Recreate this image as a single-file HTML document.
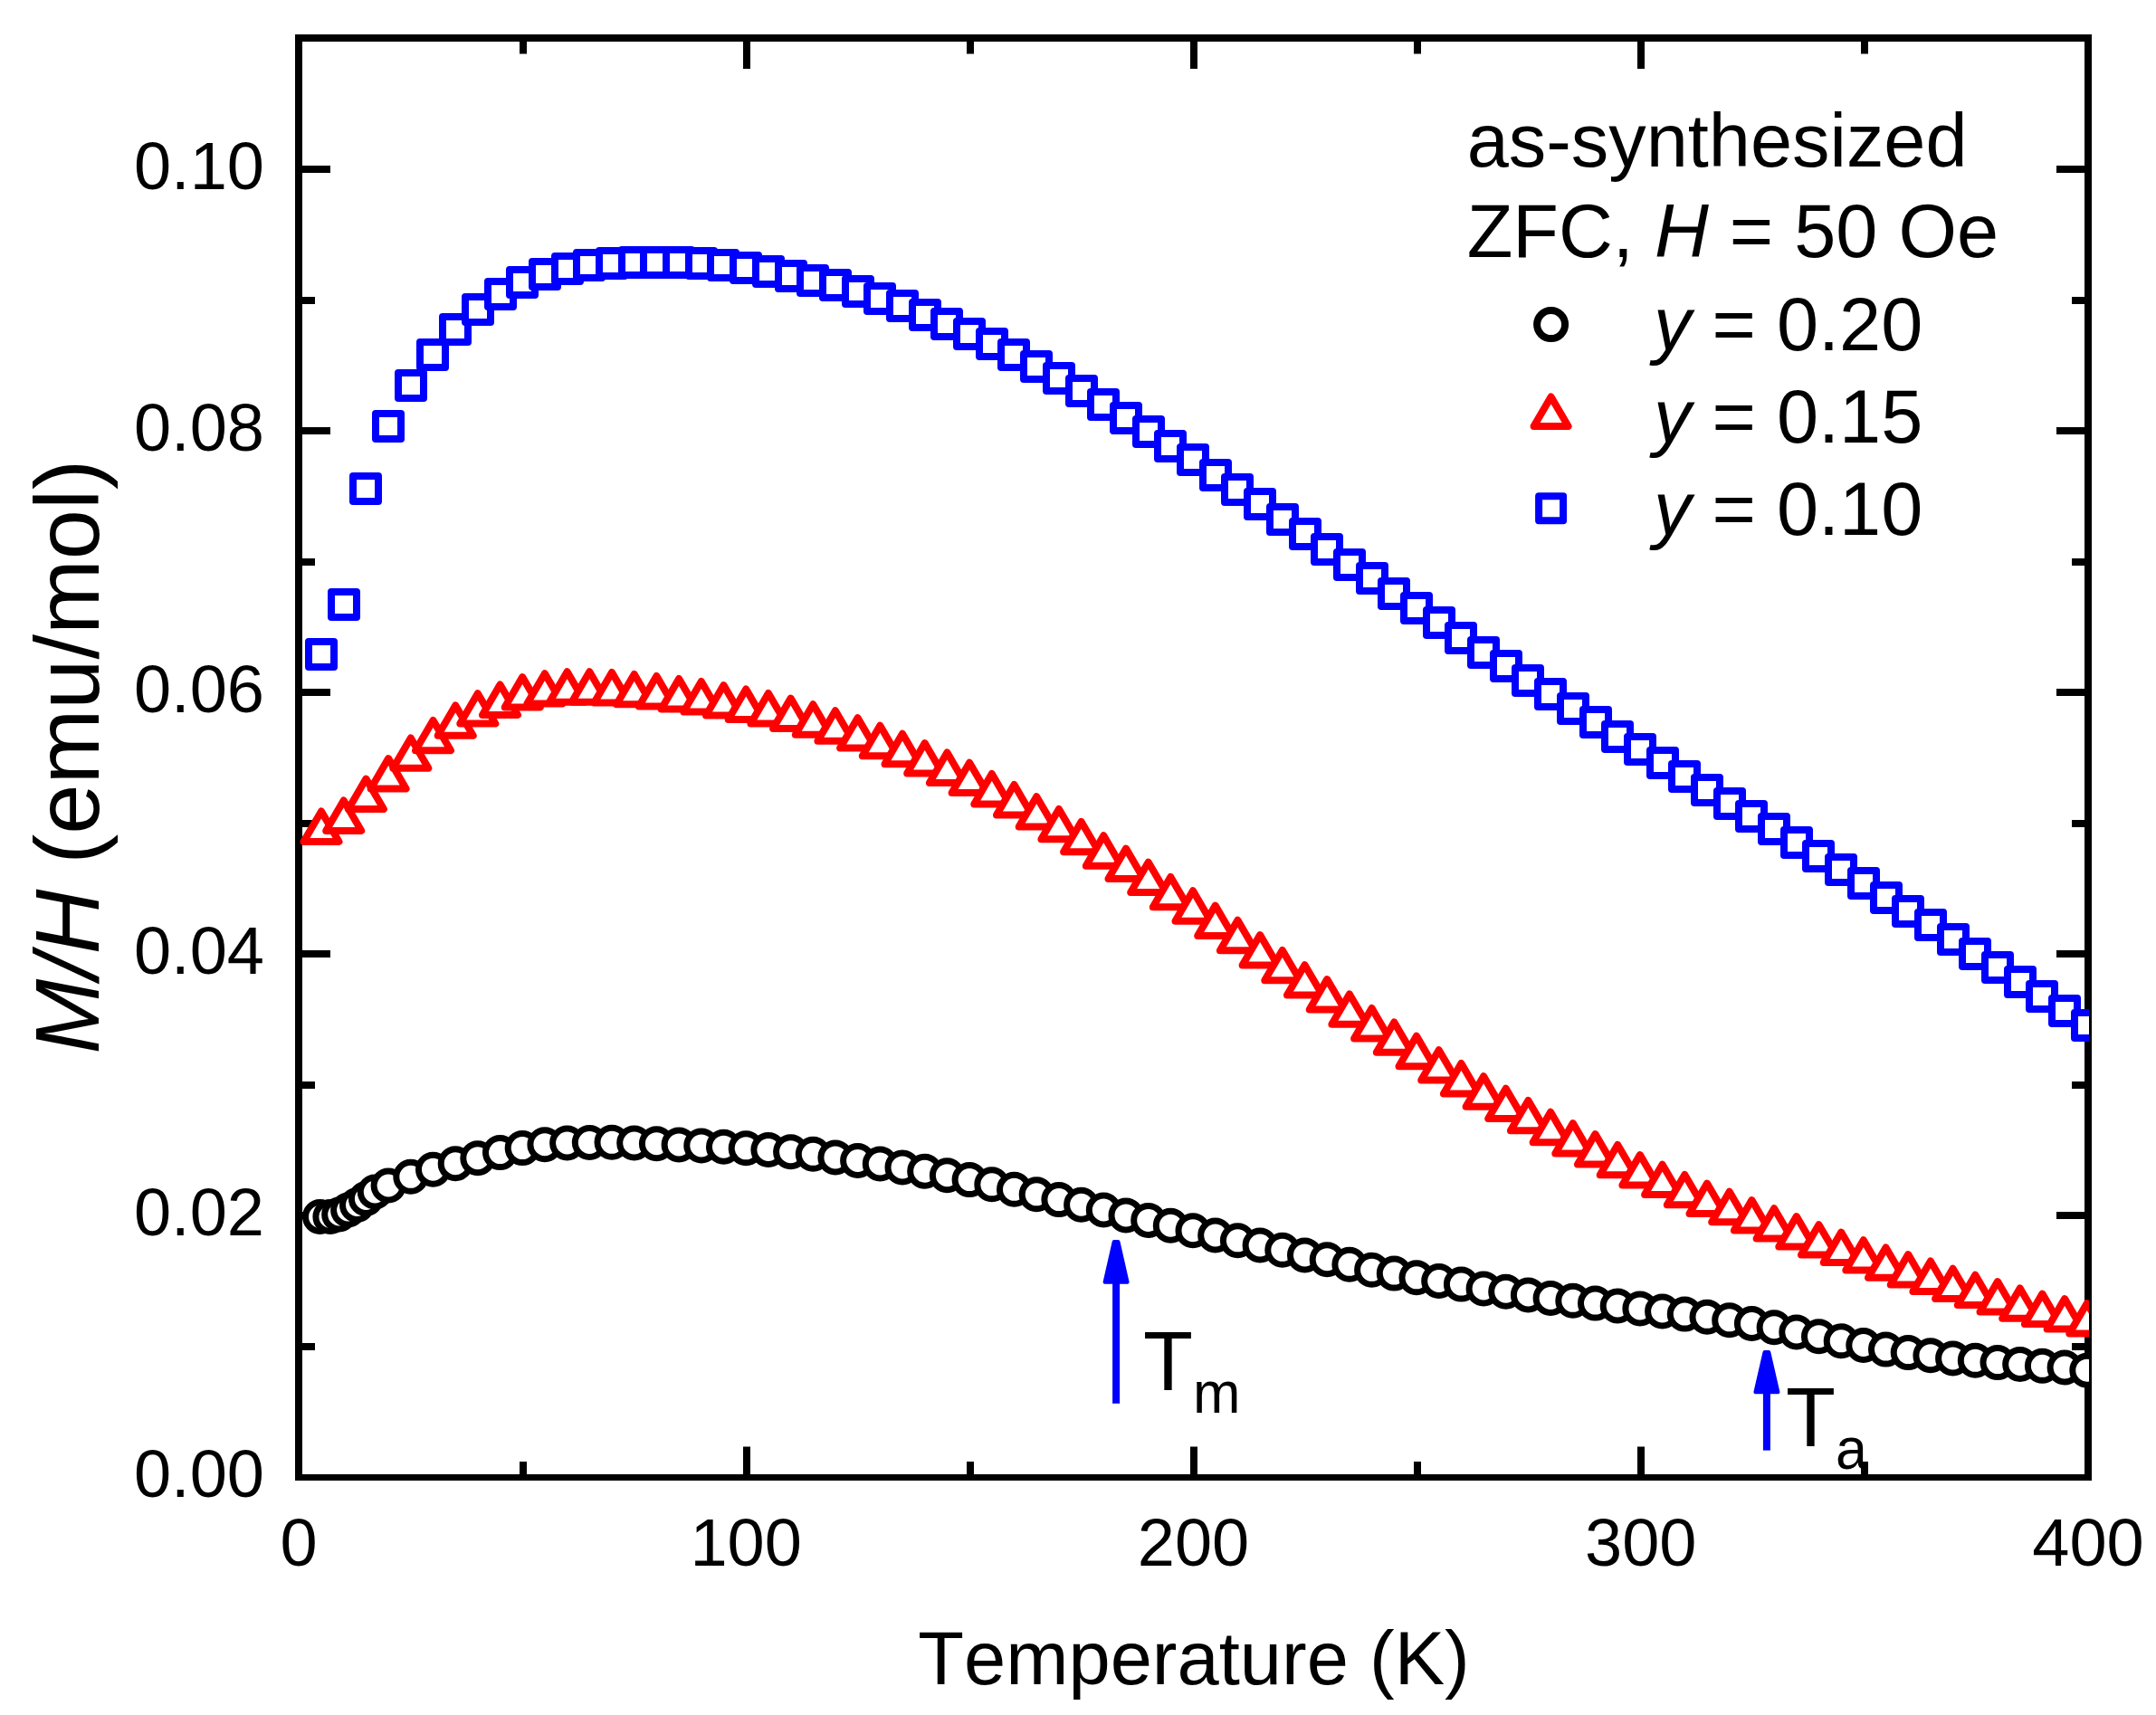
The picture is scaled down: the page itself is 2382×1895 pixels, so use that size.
<!DOCTYPE html>
<html><head><meta charset="utf-8"><title>M/H vs Temperature</title>
<style>
html,body{margin:0;padding:0;background:#fff}
body{width:2382px;height:1895px;overflow:hidden}
svg{display:block}
text{font-family:"Liberation Sans",sans-serif;fill:#000;font-kerning:none}
.i{font-style:italic}
</style></head><body>
<svg width="2382" height="1895" viewBox="0 0 2382 1895">
<rect width="2382" height="1895" fill="#fff"/>
<defs><clipPath id="c"><rect x="330.0" y="42.0" width="1978.0" height="1590.5"/></clipPath></defs>
<g stroke="#000" stroke-width="8" fill="none" stroke-linecap="butt">
<path d="M326 42H2311"/><path d="M326 1632.5H2311" stroke-width="7"/><path d="M330 38V1636M2307 38V1636"/>
<path d="M578.00 1632.5v-17.5M578.00 42.0v17.5M825.00 1632.5v-34.0M825.00 42.0v34.0M1072.00 1632.5v-17.5M1072.00 42.0v17.5M1319.00 1632.5v-34.0M1319.00 42.0v34.0M1566.00 1632.5v-17.5M1566.00 42.0v17.5M1813.00 1632.5v-34.0M1813.00 42.0v34.0M2060.00 1632.5v-17.5M2060.00 42.0v17.5M330.0 1488.00h18.0M2307.0 1488.00h-18.0M330.0 1343.00h35.0M2307.0 1343.00h-35.0M330.0 1199.00h18.0M2307.0 1199.00h-18.0M330.0 1054.00h35.0M2307.0 1054.00h-35.0M330.0 910.00h18.0M2307.0 910.00h-18.0M330.0 765.00h35.0M2307.0 765.00h-35.0M330.0 621.00h18.0M2307.0 621.00h-18.0M330.0 476.00h35.0M2307.0 476.00h-35.0M330.0 332.00h18.0M2307.0 332.00h-18.0M330.0 187.00h35.0M2307.0 187.00h-35.0"/>
</g>
<g clip-path="url(#c)" fill="#fff" stroke-width="8" stroke-linejoin="round">
<g stroke="#000" stroke-width="7">
<circle cx="353.5" cy="1344.5" r="16.0"/><circle cx="364.9" cy="1344.5" r="16.0"/><circle cx="374.7" cy="1342.0" r="16.0"/><circle cx="384.6" cy="1337.0" r="16.0"/><circle cx="394.5" cy="1331.5" r="16.0"/><circle cx="404.4" cy="1324.5" r="16.0"/><circle cx="414.3" cy="1317.0" r="16.0"/><circle cx="429.1" cy="1310.0" r="16.0"/><circle cx="453.8" cy="1300.3" r="16.0"/><circle cx="478.5" cy="1292.2" r="16.0"/><circle cx="503.2" cy="1285.7" r="16.0"/><circle cx="527.8" cy="1279.7" r="16.0"/><circle cx="552.5" cy="1273.6" r="16.0"/><circle cx="577.2" cy="1268.6" r="16.0"/><circle cx="601.9" cy="1264.7" r="16.0"/><circle cx="626.6" cy="1263.0" r="16.0"/><circle cx="651.3" cy="1262.5" r="16.0"/><circle cx="676.0" cy="1262.3" r="16.0"/><circle cx="700.7" cy="1263.0" r="16.0"/><circle cx="725.4" cy="1263.7" r="16.0"/><circle cx="750.1" cy="1264.9" r="16.0"/><circle cx="774.8" cy="1265.9" r="16.0"/><circle cx="799.5" cy="1267.2" r="16.0"/><circle cx="824.2" cy="1268.8" r="16.0"/><circle cx="848.9" cy="1270.5" r="16.0"/><circle cx="873.6" cy="1272.7" r="16.0"/><circle cx="898.3" cy="1275.3" r="16.0"/><circle cx="922.9" cy="1278.9" r="16.0"/><circle cx="947.6" cy="1282.5" r="16.0"/><circle cx="972.3" cy="1286.0" r="16.0"/><circle cx="997.0" cy="1289.9" r="16.0"/><circle cx="1021.7" cy="1294.2" r="16.0"/><circle cx="1046.4" cy="1298.7" r="16.0"/><circle cx="1071.1" cy="1303.6" r="16.0"/><circle cx="1095.8" cy="1308.8" r="16.0"/><circle cx="1120.5" cy="1314.3" r="16.0"/><circle cx="1145.2" cy="1319.8" r="16.0"/><circle cx="1169.9" cy="1325.6" r="16.0"/><circle cx="1194.6" cy="1331.2" r="16.0"/><circle cx="1219.3" cy="1337.0" r="16.0"/><circle cx="1244.0" cy="1342.9" r="16.0"/><circle cx="1268.7" cy="1348.4" r="16.0"/><circle cx="1293.3" cy="1354.2" r="16.0"/><circle cx="1318.0" cy="1359.7" r="16.0"/><circle cx="1342.7" cy="1365.0" r="16.0"/><circle cx="1367.4" cy="1370.8" r="16.0"/><circle cx="1392.1" cy="1376.0" r="16.0"/><circle cx="1416.8" cy="1381.3" r="16.0"/><circle cx="1441.5" cy="1386.9" r="16.0"/><circle cx="1466.2" cy="1391.7" r="16.0"/><circle cx="1490.9" cy="1397.3" r="16.0"/><circle cx="1515.6" cy="1403.3" r="16.0"/><circle cx="1540.3" cy="1407.1" r="16.0"/><circle cx="1565.0" cy="1411.8" r="16.0"/><circle cx="1589.7" cy="1415.5" r="16.0"/><circle cx="1614.4" cy="1419.1" r="16.0"/><circle cx="1639.1" cy="1423.9" r="16.0"/><circle cx="1663.7" cy="1427.2" r="16.0"/><circle cx="1688.4" cy="1430.9" r="16.0"/><circle cx="1713.1" cy="1434.5" r="16.0"/><circle cx="1737.8" cy="1437.3" r="16.0"/><circle cx="1762.5" cy="1440.1" r="16.0"/><circle cx="1787.2" cy="1443.0" r="16.0"/><circle cx="1811.9" cy="1445.9" r="16.0"/><circle cx="1836.6" cy="1449.0" r="16.0"/><circle cx="1861.3" cy="1452.1" r="16.0"/><circle cx="1886.0" cy="1455.3" r="16.0"/><circle cx="1910.7" cy="1458.8" r="16.0"/><circle cx="1935.4" cy="1462.5" r="16.0"/><circle cx="1960.1" cy="1466.7" r="16.0"/><circle cx="1984.8" cy="1472.0" r="16.0"/><circle cx="2009.5" cy="1476.7" r="16.0"/><circle cx="2034.2" cy="1481.8" r="16.0"/><circle cx="2058.8" cy="1486.5" r="16.0"/><circle cx="2083.5" cy="1491.1" r="16.0"/><circle cx="2108.2" cy="1494.6" r="16.0"/><circle cx="2132.9" cy="1497.7" r="16.0"/><circle cx="2157.6" cy="1500.9" r="16.0"/><circle cx="2182.3" cy="1503.3" r="16.0"/><circle cx="2207.0" cy="1505.6" r="16.0"/><circle cx="2231.7" cy="1507.5" r="16.0"/><circle cx="2256.4" cy="1509.3" r="16.0"/><circle cx="2281.1" cy="1511.0" r="16.0"/><circle cx="2305.8" cy="1514.2" r="16.0"/>
</g>
<g stroke="#f00">
<path d="M355.0 896.5l19.50 33.40h-39.00z"/><path d="M379.7 884.5l19.50 33.40h-39.00z"/><path d="M404.4 860.6l19.50 33.40h-39.00z"/><path d="M429.1 838.1l19.50 33.40h-39.00z"/><path d="M453.8 815.4l19.50 33.40h-39.00z"/><path d="M478.5 795.9l19.50 33.40h-39.00z"/><path d="M503.2 779.4l19.50 33.40h-39.00z"/><path d="M527.8 766.2l19.50 33.40h-39.00z"/><path d="M552.5 756.5l19.50 33.40h-39.00z"/><path d="M577.2 748.1l19.50 33.40h-39.00z"/><path d="M601.9 744.2l19.50 33.40h-39.00z"/><path d="M626.6 742.3l19.50 33.40h-39.00z"/><path d="M651.3 742.3l19.50 33.40h-39.00z"/><path d="M676.0 743.0l19.50 33.40h-39.00z"/><path d="M700.7 744.9l19.50 33.40h-39.00z"/><path d="M725.4 747.0l19.50 33.40h-39.00z"/><path d="M750.1 750.0l19.50 33.40h-39.00z"/><path d="M774.8 753.0l19.50 33.40h-39.00z"/><path d="M799.5 757.1l19.50 33.40h-39.00z"/><path d="M824.2 761.5l19.50 33.40h-39.00z"/><path d="M848.9 766.0l19.50 33.40h-39.00z"/><path d="M873.6 771.6l19.50 33.40h-39.00z"/><path d="M898.3 778.3l19.50 33.40h-39.00z"/><path d="M922.9 785.3l19.50 33.40h-39.00z"/><path d="M947.6 793.2l19.50 33.40h-39.00z"/><path d="M972.3 801.8l19.50 33.40h-39.00z"/><path d="M997.0 810.8l19.50 33.40h-39.00z"/><path d="M1021.7 821.1l19.50 33.40h-39.00z"/><path d="M1046.4 831.5l19.50 33.40h-39.00z"/><path d="M1071.1 842.7l19.50 33.40h-39.00z"/><path d="M1095.8 855.0l19.50 33.40h-39.00z"/><path d="M1120.5 867.0l19.50 33.40h-39.00z"/><path d="M1145.2 880.2l19.50 33.40h-39.00z"/><path d="M1169.9 893.9l19.50 33.40h-39.00z"/><path d="M1194.6 907.9l19.50 33.40h-39.00z"/><path d="M1219.3 923.3l19.50 33.40h-39.00z"/><path d="M1244.0 937.6l19.50 33.40h-39.00z"/><path d="M1268.7 952.7l19.50 33.40h-39.00z"/><path d="M1293.3 968.9l19.50 33.40h-39.00z"/><path d="M1318.0 984.3l19.50 33.40h-39.00z"/><path d="M1342.7 1000.6l19.50 33.40h-39.00z"/><path d="M1367.4 1016.8l19.50 33.40h-39.00z"/><path d="M1392.1 1033.1l19.50 33.40h-39.00z"/><path d="M1416.8 1049.9l19.50 33.40h-39.00z"/><path d="M1441.5 1066.2l19.50 33.40h-39.00z"/><path d="M1466.2 1082.1l19.50 33.40h-39.00z"/><path d="M1490.9 1098.4l19.50 33.40h-39.00z"/><path d="M1515.6 1114.0l19.50 33.40h-39.00z"/><path d="M1540.3 1129.4l19.50 33.40h-39.00z"/><path d="M1565.0 1144.8l19.50 33.40h-39.00z"/><path d="M1589.7 1160.2l19.50 33.40h-39.00z"/><path d="M1614.4 1175.0l19.50 33.40h-39.00z"/><path d="M1639.1 1189.3l19.50 33.40h-39.00z"/><path d="M1663.7 1202.7l19.50 33.40h-39.00z"/><path d="M1688.4 1215.9l19.50 33.40h-39.00z"/><path d="M1713.1 1228.8l19.50 33.40h-39.00z"/><path d="M1737.8 1241.1l19.50 33.40h-39.00z"/><path d="M1762.5 1253.1l19.50 33.40h-39.00z"/><path d="M1787.2 1264.9l19.50 33.40h-39.00z"/><path d="M1811.9 1276.1l19.50 33.40h-39.00z"/><path d="M1836.6 1286.7l19.50 33.40h-39.00z"/><path d="M1861.3 1297.9l19.50 33.40h-39.00z"/><path d="M1886.0 1307.6l19.50 33.40h-39.00z"/><path d="M1910.7 1316.8l19.50 33.40h-39.00z"/><path d="M1935.4 1326.1l19.50 33.40h-39.00z"/><path d="M1960.1 1335.2l19.50 33.40h-39.00z"/><path d="M1984.8 1344.1l19.50 33.40h-39.00z"/><path d="M2009.5 1353.2l19.50 33.40h-39.00z"/><path d="M2034.2 1361.6l19.50 33.40h-39.00z"/><path d="M2058.8 1370.2l19.50 33.40h-39.00z"/><path d="M2083.5 1378.4l19.50 33.40h-39.00z"/><path d="M2108.2 1386.1l19.50 33.40h-39.00z"/><path d="M2132.9 1393.5l19.50 33.40h-39.00z"/><path d="M2157.6 1401.7l19.50 33.40h-39.00z"/><path d="M2182.3 1408.7l19.50 33.40h-39.00z"/><path d="M2207.0 1416.1l19.50 33.40h-39.00z"/><path d="M2231.7 1423.4l19.50 33.40h-39.00z"/><path d="M2256.4 1429.6l19.50 33.40h-39.00z"/><path d="M2281.1 1435.1l19.50 33.40h-39.00z"/><path d="M2305.8 1440.1l19.50 33.40h-39.00z"/>
</g>
<g stroke="#00f">
<rect x="341" y="709" width="28" height="28"/><rect x="366" y="654" width="28" height="28"/><rect x="390" y="526" width="28" height="28"/><rect x="415" y="457" width="28" height="28"/><rect x="440" y="412" width="28" height="28"/><rect x="464" y="378" width="28" height="28"/><rect x="489" y="350" width="28" height="28"/><rect x="514" y="328" width="28" height="28"/><rect x="539" y="311" width="28" height="28"/><rect x="563" y="298" width="28" height="28"/><rect x="588" y="289" width="28" height="28"/><rect x="613" y="283" width="28" height="28"/><rect x="637" y="279" width="28" height="28"/><rect x="662" y="277" width="28" height="28"/><rect x="687" y="276" width="28" height="28"/><rect x="711" y="276" width="28" height="28"/><rect x="736" y="276" width="28" height="28"/><rect x="761" y="277" width="28" height="28"/><rect x="785" y="279" width="28" height="28"/><rect x="810" y="282" width="28" height="28"/><rect x="835" y="286" width="28" height="28"/><rect x="860" y="291" width="28" height="28"/><rect x="884" y="296" width="28" height="28"/><rect x="909" y="301" width="28" height="28"/><rect x="934" y="308" width="28" height="28"/><rect x="958" y="316" width="28" height="28"/><rect x="983" y="324" width="28" height="28"/><rect x="1008" y="334" width="28" height="28"/><rect x="1032" y="344" width="28" height="28"/><rect x="1057" y="355" width="28" height="28"/><rect x="1082" y="366" width="28" height="28"/><rect x="1106" y="378" width="28" height="28"/><rect x="1131" y="391" width="28" height="28"/><rect x="1156" y="404" width="28" height="28"/><rect x="1181" y="418" width="28" height="28"/><rect x="1205" y="433" width="28" height="28"/><rect x="1230" y="448" width="28" height="28"/><rect x="1255" y="463" width="28" height="28"/><rect x="1279" y="479" width="28" height="28"/><rect x="1304" y="494" width="28" height="28"/><rect x="1329" y="511" width="28" height="28"/><rect x="1353" y="527" width="28" height="28"/><rect x="1378" y="543" width="28" height="28"/><rect x="1403" y="560" width="28" height="28"/><rect x="1428" y="576" width="28" height="28"/><rect x="1452" y="593" width="28" height="28"/><rect x="1477" y="610" width="28" height="28"/><rect x="1502" y="625" width="28" height="28"/><rect x="1526" y="642" width="28" height="28"/><rect x="1551" y="658" width="28" height="28"/><rect x="1576" y="674" width="28" height="28"/><rect x="1600" y="691" width="28" height="28"/><rect x="1625" y="707" width="28" height="28"/><rect x="1650" y="722" width="28" height="28"/><rect x="1674" y="738" width="28" height="28"/><rect x="1699" y="753" width="28" height="28"/><rect x="1724" y="769" width="28" height="28"/><rect x="1749" y="784" width="28" height="28"/><rect x="1773" y="800" width="28" height="28"/><rect x="1798" y="814" width="28" height="28"/><rect x="1823" y="829" width="28" height="28"/><rect x="1847" y="844" width="28" height="28"/><rect x="1872" y="859" width="28" height="28"/><rect x="1897" y="874" width="28" height="28"/><rect x="1921" y="888" width="28" height="28"/><rect x="1946" y="902" width="28" height="28"/><rect x="1971" y="917" width="28" height="28"/><rect x="1995" y="932" width="28" height="28"/><rect x="2020" y="947" width="28" height="28"/><rect x="2045" y="962" width="28" height="28"/><rect x="2070" y="978" width="28" height="28"/><rect x="2094" y="993" width="28" height="28"/><rect x="2119" y="1008" width="28" height="28"/><rect x="2144" y="1024" width="28" height="28"/><rect x="2168" y="1040" width="28" height="28"/><rect x="2193" y="1055" width="28" height="28"/><rect x="2218" y="1071" width="28" height="28"/><rect x="2242" y="1087" width="28" height="28"/><rect x="2267" y="1103" width="28" height="28"/><rect x="2292" y="1119" width="28" height="28"/>
</g>
</g>
<g font-size="74" text-anchor="end">
<text x="292" y="1654.0">0.00</text><text x="292" y="1364.9">0.02</text><text x="292" y="1075.8">0.04</text><text x="292" y="786.7">0.06</text><text x="292" y="497.6">0.08</text><text x="292" y="208.5">0.10</text>
</g>
<g font-size="74" text-anchor="middle">
<text x="330.0" y="1729.5">0</text><text x="824.2" y="1729.5">100</text><text x="1318.5" y="1729.5">200</text><text x="1812.8" y="1729.5">300</text><text x="2307.0" y="1729.5">400</text>
</g>
<text x="1319" y="1861" font-size="83.1" text-anchor="middle">Temperature (K)</text>
<text transform="translate(109 836.2) rotate(-90)" font-size="99.3" text-anchor="middle"><tspan class="i">M/H</tspan> (emu/mol)</text>
<g font-size="82.9">
<text x="1620.7" y="184">as-synthesized</text>
<text x="1620.7" y="284.4">ZFC, <tspan class="i">H</tspan> = 50 Oe</text>
<text x="1827" y="386.8"><tspan class="i">y</tspan> = 0.20</text>
<text x="1827" y="488.5"><tspan class="i">y</tspan> = 0.15</text>
<text x="1827" y="590.5"><tspan class="i">y</tspan> = 0.10</text>
</g>
<g fill="none" stroke-width="8" stroke-linejoin="round">
<circle cx="1713.6" cy="358.6" r="15.5" stroke="#000"/>
<path d="M1713.6 438.5l19.0 32.5h-38z" stroke="#f00"/>
<rect x="1700.10" y="548.30" width="27" height="27" stroke="#00f"/>
</g>
<path d="M1230.6999999999998 1372.1H1235.5L1245.6 1416.7H1220.6Z" fill="#00f" stroke="#00f" stroke-width="4" stroke-linejoin="round"/><rect x="1229.1" y="1417.7" width="8" height="133.0999999999999" fill="#00f"/>
<path d="M1949.5 1494.1H1954.3000000000002L1964.4 1538.3H1939.4Z" fill="#00f" stroke="#00f" stroke-width="4" stroke-linejoin="round"/><rect x="1947.9" y="1539.3" width="8" height="63.299999999999955" fill="#00f"/>
<text transform="translate(1263 1536) scale(1 1.04)" font-size="90">T<tspan font-size="63" dy="24.0">m</tspan></text>
<text transform="translate(1973 1598) scale(1 1.04)" font-size="90">T<tspan font-size="63" dy="24.0">a</tspan></text>
</svg>
</body></html>
